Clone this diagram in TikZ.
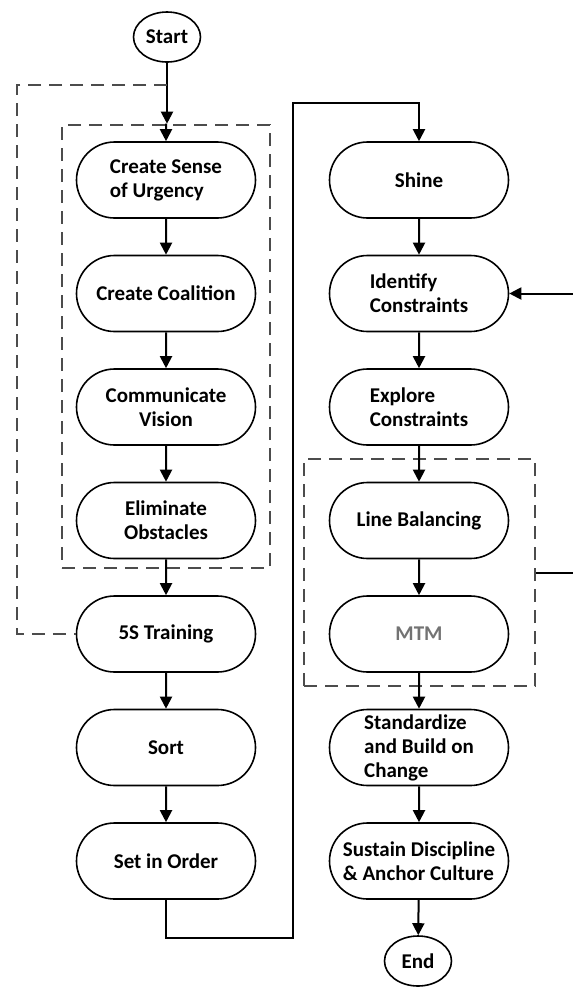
\documentclass[tikz,border=0pt]{standalone}
\usepackage{fontspec}
\setmainfont{Carlito}
\usetikzlibrary{positioning}
\usetikzlibrary{shapes.misc}
\usetikzlibrary{shapes.geometric}
\usetikzlibrary{arrows.meta}
\usetikzlibrary{fit}

\tikzset{
  stage/.style={draw, line width=.8pt, rounded rectangle, minimum width=92.5pt,
    minimum height=38pt, inner sep=1.5pt, align=center,
    font=\fontsize{10.5}{12}\selectfont\bfseries},
  terminal/.style={draw, line width=.8pt, ellipse, minimum width=33.5pt,
    minimum height=25pt, inner sep=0pt, font=\fontsize{10.5}{12}\selectfont\bfseries},
  flow/.style={line width=1pt, -{Triangle[length=6pt,width=6pt]}},
  phasebox/.style={draw=black!70, line width=1.3pt, dash pattern=on 6.5pt off 4pt},
}

\begin{document}
\begin{tikzpicture}[x=.5pt, y=-.5pt]
\useasboundingbox (0,0) rectangle (573,987);
% start and end
\node (start) [terminal] at (167,37) {Start};
\node (end) [terminal] at (418,961) {End};
% left column
\node (urgency) [stage, align=left] at (166,180) {Create Sense\\of Urgency};
\node (coalition) [stage, below=17.95pt of urgency] {Create Coalition};
\node (vision) [stage, below=17.95pt of coalition] {Communicate\\Vision};
\node (obstacles) [stage, below=17.95pt of vision] {Eliminate\\Obstacles};
\node (training) [stage, below=17.95pt of obstacles] {5S Training};
\node (sort) [stage, below=17.95pt of training] {Sort};
\node (order) [stage, below=17.95pt of sort] {Set in Order};
% right column
\node (shine) [stage] at (419,180) {Shine};
\node (identify) [stage, align=left, below=17.95pt of shine] {Identify\\Constraints};
\node (explore) [stage, align=left, below=17.95pt of identify] {Explore\\Constraints};
\node (linebal) [stage, below=17.95pt of explore] {Line Balancing};
\node (mtm) [stage, text=black!55, below=17.95pt of linebal] {MTM};
\node (standard) [stage, align=left, below=17.95pt of mtm] {Standardize\\and Build on\\Change};
\node (sustain) [stage, align=left, below=17.95pt of standard] {Sustain Discipline\\\& Anchor Culture};
% dashed groups
\node (kotter) [phasebox, inner sep=0pt, fit={(62,125) (270,568)}] {};
\node (balance) [phasebox, inner sep=0pt, fit={(304,459) (535,686)}] {};
% turning points
\coordinate (loopstart) at (167,85);
\coordinate (loopleft) at (17,634);
\coordinate (lowturn) at (293,938);
\coordinate (highturn) at (293,103);
\coordinate (feedout) at (573,572.5);
\coordinate (feedin) at (573,293.5);
% arrows
\draw [flow] (start) -- (start |- kotter.north);
\draw [flow] (urgency |- kotter.north) -- (urgency);
\draw [flow] (urgency) -- (coalition);
\draw [flow] (coalition) -- (vision);
\draw [flow] (vision) -- (obstacles);
\draw [flow] (obstacles) -- (training);
\draw [flow] (training) -- (sort);
\draw [flow] (sort) -- (order);
\draw [flow] (order.south) |- (lowturn) -- (highturn) -| (shine.north);
\draw [flow] (shine) -- (identify);
\draw [flow] (identify) -- (explore);
\draw [flow] (explore) -- (linebal);
\draw [flow] (linebal) -- (mtm);
\draw [flow] (mtm) -- (standard);
\draw [flow] (standard) -- (sustain);
\draw [flow] (sustain) -- (end);
% loops
\draw [phasebox] (loopstart) -| (loopleft |- training.west) -- (training.west);
\draw [line width=1pt] (balance.east) -- (balance.east -| feedout);
\draw [flow] (feedin |- identify.east) -- (identify.east);
\end{tikzpicture}
\end{document}
